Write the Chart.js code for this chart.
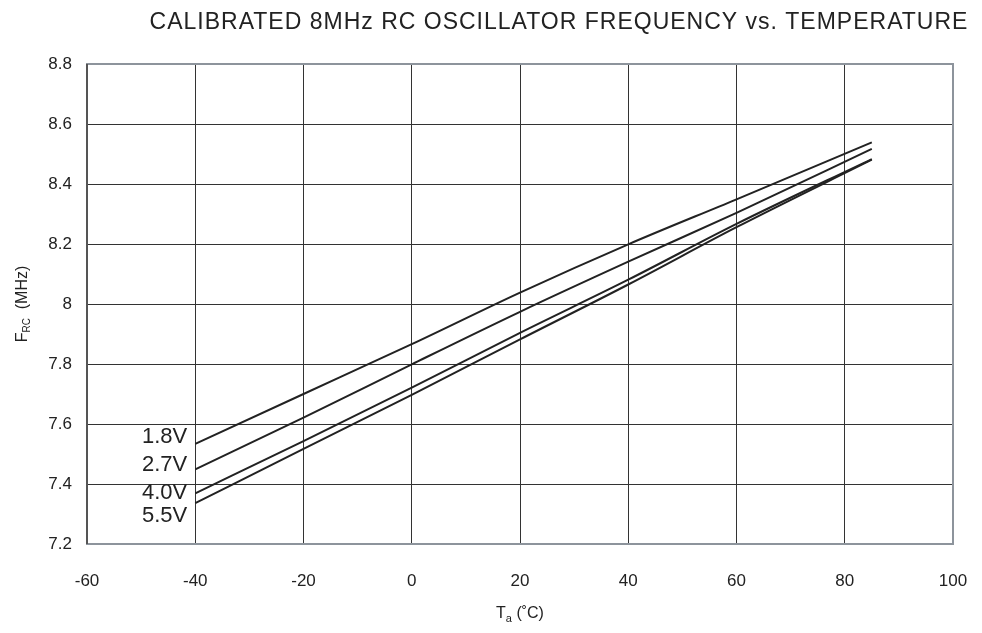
<!DOCTYPE html>
<html>
<head>
<meta charset="utf-8">
<script src="https://cdn.jsdelivr.net/npm/chart.js@4.4.1/dist/chart.umd.min.js"></script>
<style>
  html, body { margin: 0; padding: 0; background: #fff; }
  #wrap { width: 982px; height: 633px; }
</style>
</head>
<body>
<div id="wrap"><canvas id="rcChart" width="982" height="633"></canvas></div>
<script>
// Temperature points (°C)
const temps = [-40, -20, 0, 20, 40, 60, 85];

// Frequency (MHz) per supply voltage
const f18 = [7.534, 7.700, 7.866, 8.038, 8.199, 8.349, 8.539];
const f27 = [7.449, 7.621, 7.799, 7.974, 8.141, 8.304, 8.517];
const f40 = [7.369, 7.543, 7.721, 7.904, 8.081, 8.267, 8.483];
const f55 = [7.336, 7.517, 7.697, 7.882, 8.065, 8.256, 8.481];

const seriesNames = ["1.8V", "2.7V", "4.0V", "5.5V"];

// Axis ticks
const xTicks = [-60, -40, -20, 0, 20, 40, 60, 80, 100];
const yTicks = [7.2, 7.4, 7.6, 7.8, 8, 8.2, 8.4, 8.6, 8.8];

const FONT = "'Liberation Sans', Arial, sans-serif";
const INK = "#222";

const toPoints = vals => temps.map((t, i) => ({ x: t, y: vals[i] }));

// label offsets (px) from the first point of each line
const labelDy = [-7, -4, 0, 13];

const decorations = {
    id: "decorations",
    beforeDatasetsDraw(chart) {
        // plot frame
        const { ctx, chartArea: a } = chart;
        ctx.save();
        ctx.lineWidth = 2;
        ctx.strokeStyle = "#8d949c";
        ctx.strokeRect(a.left, a.top, a.right - a.left, a.bottom - a.top);
        ctx.strokeStyle = "#555";
        ctx.beginPath();
        ctx.moveTo(a.left, a.top);
        ctx.lineTo(a.left, a.bottom);
        ctx.stroke();
        ctx.restore();
    },
    afterDraw(chart) {
        const { ctx } = chart;
        ctx.save();
        ctx.fillStyle = INK;

        // title
        ctx.font = "23px " + FONT;
        ctx.letterSpacing = "1px";
        ctx.textAlign = "center";
        ctx.textBaseline = "middle";
        ctx.fillText("CALIBRATED 8MHz RC OSCILLATOR FREQUENCY vs. TEMPERATURE", 559, 23);
        ctx.letterSpacing = "0px";

        // series labels at the start of each line
        ctx.font = "22px " + FONT;
        ctx.textAlign = "right";
        chart.data.datasets.forEach((ds, i) => {
            const p = chart.getDatasetMeta(i).data[0];
            ctx.fillText(ds.label, p.x - 8, p.y + labelDy[i]);
        });

        // x axis title: T_a (˚C)
        const xs = chart.scales.x;
        const cx = (xs.left + xs.right) / 2;
        ctx.textAlign = "left";
        ctx.textBaseline = "alphabetic";
        ctx.font = "16px " + FONT;
        const wT = ctx.measureText("T").width;
        ctx.font = "11px " + FONT;
        const wa = ctx.measureText("a").width;
        ctx.font = "16px " + FONT;
        const wRest = ctx.measureText(" (˚C)").width;
        let x0 = cx - (wT + wa + wRest) / 2;
        ctx.fillText("T", x0, 618);
        ctx.font = "11px " + FONT;
        ctx.fillText("a", x0 + wT, 622);
        ctx.font = "16px " + FONT;
        ctx.fillText(" (˚C)", x0 + wT + wa, 618);

        // y axis title: F_RC (MHz)
        const ys = chart.scales.y;
        const cy = (ys.top + ys.bottom) / 2;
        ctx.translate(27, cy);
        ctx.rotate(-Math.PI / 2);
        ctx.font = "16px " + FONT;
        const wF = ctx.measureText("F").width;
        ctx.font = "10px " + FONT;
        const wRC = ctx.measureText("RC").width;
        ctx.font = "16px " + FONT;
        const wM = ctx.measureText("  (MHz)").width;
        x0 = -(wF + wRC + wM) / 2;
        ctx.fillText("F", x0, 0);
        ctx.font = "10px " + FONT;
        ctx.fillText("RC", x0 + wF, 3);
        ctx.font = "16px " + FONT;
        ctx.fillText("  (MHz)", x0 + wF + wRC, 0);
        ctx.restore();
    }
};

const datasets = [f18, f27, f40, f55].map((vals, i) => ({
    label: seriesNames[i],
    data: toPoints(vals),
    borderColor: INK,
    borderWidth: 2,
    pointRadius: 0,
    fill: false,
    cubicInterpolationMode: "monotone"
}));

new Chart(document.getElementById("rcChart"), {
    type: "line",
    data: { datasets },
    plugins: [decorations],
    options: {
        responsive: false,
        animation: false,
        layout: { padding: { left: 0, right: 29, top: 64, bottom: 0 } },
        plugins: { legend: { display: false }, title: { display: false }, tooltip: { enabled: false } },
        scales: {
            x: {
                type: "linear",
                min: -60,
                max: 100,
                afterBuildTicks: s => { s.ticks = xTicks.map(v => ({ value: v })); },
                afterFit: s => { s.height = 89; s.paddingLeft = 0; s.paddingRight = 0; },
                grid: { color: "#333", lineWidth: 1, drawTicks: false },
                border: { display: false },
                ticks: { color: INK, font: { family: FONT, size: 17 }, padding: 27 }
            },
            y: {
                type: "linear",
                min: 7.2,
                max: 8.8,
                afterBuildTicks: s => { s.ticks = yTicks.map(v => ({ value: v })); },
                afterFit: s => { s.width = 87; s.paddingTop = 0; s.paddingBottom = 0; },
                grid: { color: "#333", lineWidth: 1, drawTicks: false },
                border: { display: false },
                ticks: {
                    color: INK,
                    font: { family: FONT, size: 17 },
                    padding: 15,
                    callback: v => String(Math.round(v * 10) / 10)
                }
            }
        }
    }
});
</script>
</body>
</html>
